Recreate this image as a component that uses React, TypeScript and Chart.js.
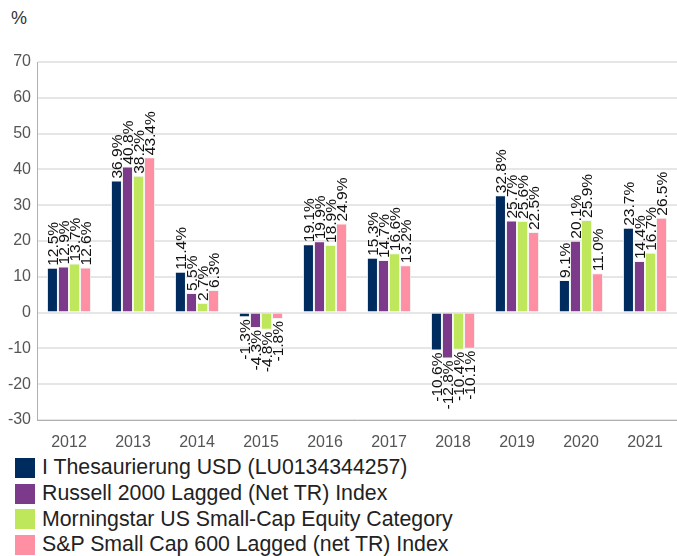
import React, { useEffect, useRef } from "react";
import { Chart, registerables } from "chart.js";

Chart.register(...registerables);

const years = ["2012", "2013", "2014", "2015", "2016", "2017", "2018", "2019", "2020", "2021"];
const seriesNames = [
  "I Thesaurierung USD (LU0134344257)",
  "Russell 2000 Lagged (Net TR) Index",
  "Morningstar US Small-Cap Equity Category",
  "S&P Small Cap 600 Lagged (net TR) Index",
];
const fund = [12.5, 36.9, 11.4, -1.3, 19.1, 15.3, -10.6, 32.8, 9.1, 23.7];
const russell = [12.9, 40.8, 5.5, -4.3, 19.9, 14.7, -12.8, 25.7, 20.1, 14.4];
const morningstar = [13.7, 38.2, 2.7, -4.8, 18.9, 16.6, -10.4, 25.6, 25.9, 16.7];
const sp600 = [12.6, 43.4, 6.3, -1.8, 24.9, 13.2, -10.1, 22.5, 11.0, 26.5];
const colors = ["#002b5e", "#7b3a8a", "#bfe75c", "#ff8fa2"];
const yTicks = { min: -30, max: 70, step: 10 };

const FONT = "'Liberation Sans', Arial, sans-serif";

const labelPlugin = {
  id: "barLabels",
  afterDatasetsDraw(chart: any) {
    const ctx = chart.ctx;
    ctx.save();
    ctx.font = "15.5px " + FONT;
    ctx.fillStyle = "#111";
    ctx.textBaseline = "middle";
    chart.data.datasets.forEach((ds: any, i: number) => {
      const meta = chart.getDatasetMeta(i);
      meta.data.forEach((bar: any, j: number) => {
        const v = ds.data[j];
        const text = v.toFixed(1) + "%";
        ctx.save();
        if (v >= 0) {
          ctx.translate(bar.x, bar.y - 2);
          ctx.rotate(-Math.PI / 2);
          ctx.textAlign = "left";
        } else {
          ctx.translate(bar.x, bar.y + 2);
          ctx.rotate(-Math.PI / 2);
          ctx.textAlign = "right";
        }
        ctx.fillText(text, 0, 1);
        ctx.restore();
      });
    });
    ctx.restore();
  },
};

export default function App() {
  const ref = useRef<HTMLCanvasElement>(null);
  useEffect(() => {
    document.body.style.margin = "0";
    const values = [fund, russell, morningstar, sp600];
    const chart = new Chart(ref.current!, {
      type: "bar",
      data: {
        labels: years,
        datasets: seriesNames.map((name, i) => ({
          label: name,
          data: values[i],
          backgroundColor: colors[i],
          borderColor: "#f4f4f4",
          borderWidth: 1,
          categoryPercentage: 0.69,
          barPercentage: 1.0,
        })),
      },
      options: {
        animation: false,
        responsive: false,
        maintainAspectRatio: false,
        layout: { padding: { top: 62, left: 0, right: 0, bottom: 0 } },
        plugins: { legend: { display: false }, tooltip: { enabled: false } },
        scales: {
          x: {
            grid: { display: false },
            border: { color: "#b0b0b0", width: 1 },
            ticks: { color: "#555", font: { size: 16, family: FONT }, padding: 5 },
            afterFit(scale: any) {
              scale.height = 28;
            },
          },
          y: {
            min: yTicks.min,
            max: yTicks.max,
            ticks: {
              stepSize: yTicks.step,
              color: "#555",
              font: { size: 16, family: FONT },
              padding: 6,
            },
            grid: { color: "#e6e6e6", lineWidth: 2, drawTicks: false },
            border: { color: "#b0b0b0", width: 1 },
            afterFit(scale: any) {
              scale.width = 37;
            },
          },
        },
      },
      plugins: [labelPlugin],
    });
    return () => chart.destroy();
  }, []);

  return (
    <div style={{ position: "relative", width: 677, height: 556, fontFamily: FONT, background: "#fff" }}>
      <div style={{ position: "absolute", left: 11, top: 8, fontSize: 18, color: "#333" }}>%</div>
      <canvas ref={ref} width={677} height={448} style={{ position: "absolute", left: 0, top: 0 }} />
      <div style={{ position: "absolute", left: 15, top: 455 }}>
        {seriesNames.map((name, i) => (
          <div key={name} style={{ display: "flex", alignItems: "center", height: 25.7 }}>
            <span style={{ width: 20, height: 20, background: colors[i], display: "inline-block", marginRight: 7, flexShrink: 0 }} />
            <span style={{ fontSize: 21.3, color: "#222", whiteSpace: "nowrap" }}>{name}</span>
          </div>
        ))}
      </div>
    </div>
  );
}
